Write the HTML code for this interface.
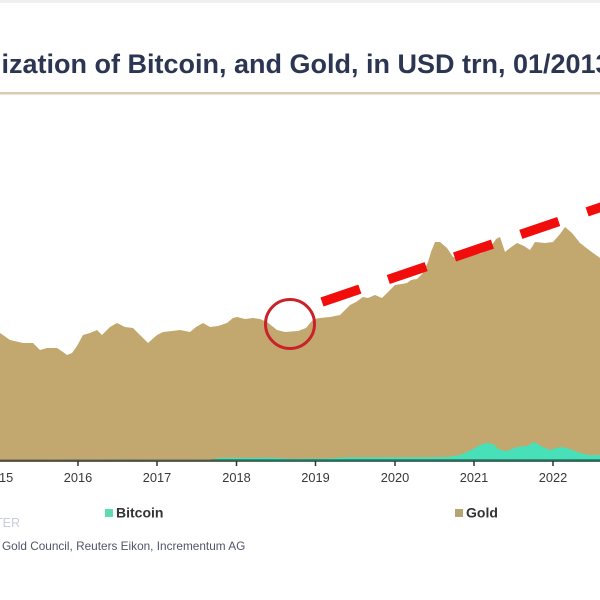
<!DOCTYPE html>
<html>
<head>
<meta charset="utf-8">
<style>
  html,body{margin:0;padding:0;background:#fff;}
  svg{display:block;}
  text{font-family:"Liberation Sans",Arial,sans-serif;}
</style>
</head>
<body>
<svg width="600" height="600" viewBox="0 0 600 600" xmlns="http://www.w3.org/2000/svg">
  <defs>
    <linearGradient id="axisGrad" x1="0" y1="0" x2="600" y2="0" gradientUnits="userSpaceOnUse">
      <stop offset="0" stop-color="#5a4f37"/>
      <stop offset="0.33" stop-color="#4f5540"/>
      <stop offset="0.45" stop-color="#2f6a5a"/>
      <stop offset="1" stop-color="#2c6658"/>
    </linearGradient>
  </defs>
  <rect x="0" y="0" width="600" height="600" fill="#ffffff"/>
  <rect x="0" y="0" width="600" height="3" fill="#efefef"/>

  <!-- Title -->
  <text x="1.5" y="73" font-size="27" font-weight="bold" fill="#2c3652">ization of Bitcoin, and Gold, in USD trn, 01/2013</text>
  <rect x="0" y="92" width="600" height="2.5" fill="#d8cdb2"/>

  <!-- Gold area -->
  <path fill="#c2a76e" d="M0,459 L0,333 L10,340 L23,343 L33,343 L40,350 L47,348 L57,348 L63,352 L67,355 L72,353 L77,346 L83,335 L90,333 L97,330 L102,335 L110,327 L117,323 L125,327 L133,328 L140,335 L148,343 L157,335 L163,332 L172,331 L180,330 L190,332 L196,327 L203,323 L210,327 L218,326 L227,323 L233,318 L237,317 L245,319 L253,318 L260,319 L267,322 L272,326 L277,330 L285,332 L298,331 L306,328 L310,323 L314,319 L320,318 L330,317 L340,315 L345,310 L350,305 L356,302 L363,297 L368,298 L375,295 L382,298 L390,290 L395,285 L402,284 L407,283 L411,280 L417,279 L423,273 L428,262 L431,252 L435,242 L440,242 L447,248 L453,257 L459,258 L470,256 L482,253 L490,248 L496,239 L500,237 L505,252 L510,248 L517,243 L524,246 L530,250 L535,242 L545,243 L553,242 L560,234 L565,227 L572,233 L580,243 L589,250 L600,258 L600,459 Z"/>

  <!-- Bitcoin area -->
  <path fill="#48e0b9" d="M0,459.5 L210,459.5 L220,457.8 L270,457.8 L290,458.6 L330,458.4 L345,457.4 L430,457.2 L447,457 L460,455 L467,452 L475,448 L480,445 L487,443 L493,444 L500,450 L507,451 L517,447 L527,446 L534,442 L543,447 L550,450 L556,448 L562,447 L570,449 L580,453 L590,455 L600,455 L600,460 L0,460 Z"/>

  <!-- Axis line -->
  <rect x="0" y="459.3" width="600" height="2.6" fill="url(#axisGrad)"/>

  <!-- Ticks -->
  <g stroke="#333" stroke-width="1.5">
    <line x1="78" y1="461" x2="78" y2="466"/>
    <line x1="157" y1="461" x2="157" y2="466"/>
    <line x1="236.5" y1="461" x2="236.5" y2="466"/>
    <line x1="315.5" y1="461" x2="315.5" y2="466"/>
    <line x1="395" y1="461" x2="395" y2="466"/>
    <line x1="474" y1="461" x2="474" y2="466"/>
    <line x1="553" y1="461" x2="553" y2="466"/>
  </g>

  <!-- Year labels -->
  <g font-size="12.8" fill="#383838" text-anchor="middle">
    <text x="-1" y="482">2015</text>
    <text x="78" y="482">2016</text>
    <text x="157" y="482">2017</text>
    <text x="236.5" y="482">2018</text>
    <text x="315.5" y="482">2019</text>
    <text x="395" y="482">2020</text>
    <text x="474" y="482">2021</text>
    <text x="553" y="482">2022</text>
  </g>

  <!-- Red circle -->
  <circle cx="290" cy="324" r="24.5" fill="none" stroke="#c9222b" stroke-width="3"/>

  <!-- Red dashed trend line -->
  <line x1="322" y1="302" x2="640" y2="193.9" stroke="#f20d0d" stroke-width="9.5" stroke-dasharray="40 30" stroke-linecap="butt"/>

  <!-- Legend -->
  <rect x="105" y="509" width="8" height="8" fill="#5cdcb5"/>
  <text x="116" y="517.5" font-size="14" font-weight="bold" fill="#333">Bitcoin</text>
  <rect x="455" y="509" width="8" height="8" fill="#b8a472"/>
  <text x="466" y="517.5" font-size="14" font-weight="bold" fill="#333">Gold</text>

  <!-- Footer -->
  <text x="-5" y="527" font-size="12.5" fill="#c8cce2">TER</text>
  <text x="2" y="550" font-size="11.8" fill="#50556a">Gold Council, Reuters Eikon, Incrementum AG</text>
</svg>
</body>
</html>
